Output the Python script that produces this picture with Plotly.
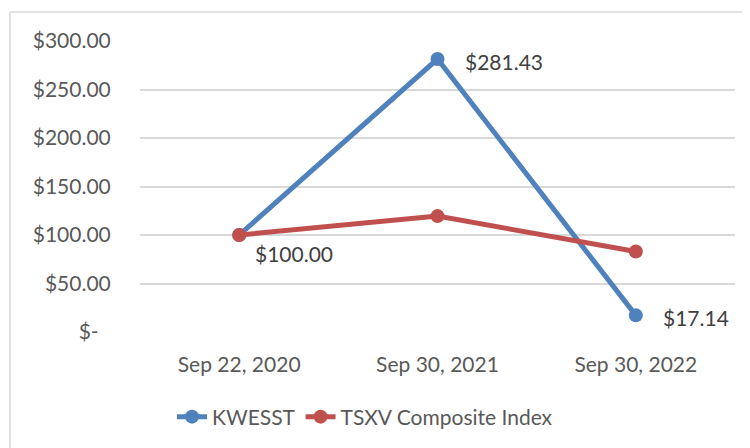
import plotly.graph_objects as go

categories = ["Sep 22, 2020", "Sep 30, 2021", "Sep 30, 2022"]
kwesst = [100.00, 281.43, 17.14]
tsxv = [100.00, 119.5, 83.0]
kwesst_labels = ["$100.00", "$281.43", "$17.14"]
y_tick_vals = [0, 50, 100, 150, 200, 250, 300]
y_tick_text = ["$-\u2007", "$50.00", "$100.00", "$150.00", "$200.00", "$250.00", "$300.00"]

BLUE = "#4F81BD"
RED = "#C0504D"
TXT = "#595959"
FONT = "Lato"

W, H = 742, 440  # page body has an 8px margin
L, R, T, B = 132, 15, 33, 116
PW, PH = W - L - R, H - T - B

fig = go.Figure()
fig.add_trace(go.Scatter(
    x=categories, y=kwesst, name="KWESST", mode="lines+markers",
    line=dict(color=BLUE, width=5), marker=dict(color=BLUE, size=14),
))
fig.add_trace(go.Scatter(
    x=categories, y=tsxv, name="TSXV Composite Index", mode="lines+markers",
    line=dict(color=RED, width=5), marker=dict(color=RED, size=14),
))

# data labels for KWESST
label_offsets = [(14, -18), (25, -2), (25, -2)]
for cat, val, lab, (dx, dy) in zip(categories, kwesst, kwesst_labels, label_offsets):
    fig.add_annotation(x=cat, y=val, text=lab, showarrow=False, xanchor="left",
                       yanchor="middle", xshift=dx, yshift=dy,
                       font=dict(family=FONT, size=21, color="#404040"))

# chart border
fig.add_shape(type="rect", xref="paper", yref="paper",
              x0=(2 - L) / PW, x1=(W + 20 - L) / PW,
              y0=-(H + 20 - (T + PH)) / PH, y1=(T + PH - 4) / PH,
              line=dict(color="#D9D9D9", width=1.5), fillcolor="rgba(0,0,0,0)", layer="below")

fig.update_layout(
    width=W, height=H,
    margin=dict(l=L, r=R, t=T, b=B, autoexpand=False),
    paper_bgcolor="white", plot_bgcolor="white",
    font=dict(family=FONT, size=21, color=TXT),
    showlegend=True,
    legend=dict(orientation="h", xref="container", yref="container",
                x=164 / W, xanchor="left",
                y=1 - 409 / H, yanchor="middle",
                font=dict(family=FONT, size=21, color=TXT),
                bgcolor="rgba(0,0,0,0)"),
    xaxis=dict(type="category", range=[-0.5, 2.5], automargin=False,
               showgrid=False, showline=False, zeroline=False,
               ticks="outside", ticklen=14, tickcolor="rgba(0,0,0,0)",
               tickfont=dict(family=FONT, size=21, color=TXT)),
    yaxis=dict(range=[0, 300], tickvals=y_tick_vals, ticktext=y_tick_text,
               automargin=False,
               showgrid=True, gridcolor="#D9D9D9", gridwidth=1.5,
               zeroline=False, showline=False,
               ticks="outside", ticklen=24, tickcolor="rgba(0,0,0,0)",
               tickfont=dict(family=FONT, size=21, color=TXT)),
)

fig.write_html("out.html")
